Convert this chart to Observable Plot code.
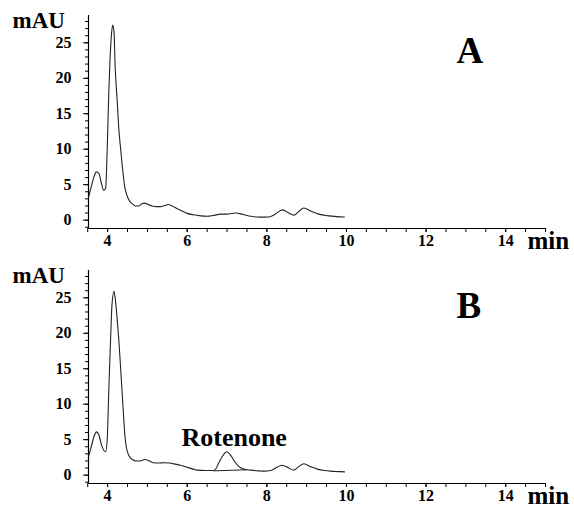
<!DOCTYPE html>
<html>
<head>
<meta charset="utf-8">
<script src="https://cdn.jsdelivr.net/npm/d3@7"></script>
<script src="https://cdn.jsdelivr.net/npm/@observablehq/plot@0.6"></script>
<style>
  html, body { margin: 0; padding: 0; background: #fff; }
  #chart svg { display: block; }
  #chart text { font-family: "Liberation Serif", "Times New Roman", "Tinos", "DejaVu Serif", serif !important; font-weight: 700 !important; }
</style>
</head>
<body>
<div id="chart"></div>
<script>
// ---- Data (retention time in min, absorbance in mAU) ----
const timeA = [3.52, 3.58, 3.65, 3.72, 3.78, 3.84, 3.90, 3.95, 3.99, 4.03, 4.06, 4.10, 4.13, 4.16, 4.19, 4.24, 4.28, 4.33, 4.38, 4.43, 4.48, 4.54, 4.62, 4.70, 4.78, 4.86, 4.93, 5.02, 5.12, 5.22, 5.33, 5.43, 5.52, 5.62, 5.75, 5.88, 6.00, 6.15, 6.34, 6.50, 6.65, 6.84, 7.00, 7.22, 7.40, 7.60, 7.80, 8.05, 8.20, 8.39, 8.55, 8.68, 8.80, 8.93, 9.10, 9.30, 9.55, 9.75, 9.95];
const mAUA  = [3.2, 4.5, 6.0, 6.8, 6.6, 5.3, 4.2, 4.5, 10.0, 18.0, 22.5, 26.4, 27.5, 26.6, 21.6, 16.9, 13.0, 9.9, 7.0, 4.7, 3.6, 2.8, 2.3, 2.0, 2.0, 2.3, 2.4, 2.2, 2.0, 1.9, 1.9, 2.05, 2.2, 2.0, 1.6, 1.25, 0.95, 0.75, 0.6, 0.55, 0.65, 0.85, 0.85, 1.0, 0.8, 0.55, 0.42, 0.45, 0.8, 1.45, 1.0, 0.7, 1.2, 1.7, 1.3, 0.85, 0.6, 0.5, 0.45];

const timeB = [3.52, 3.58, 3.65, 3.72, 3.78, 3.85, 3.95, 3.99, 4.03, 4.075, 4.11, 4.16, 4.20, 4.24, 4.28, 4.33, 4.37, 4.41, 4.45, 4.53, 4.62, 4.72, 4.82, 4.93, 5.05, 5.15, 5.30, 5.41, 5.55, 5.70, 5.83, 6.00, 6.15, 6.25, 6.45, 6.65, 6.72, 6.80, 6.90, 6.99, 7.08, 7.18, 7.30, 7.42, 7.60, 7.80, 7.93, 8.10, 8.25, 8.39, 8.55, 8.68, 8.80, 8.93, 9.10, 9.27, 9.45, 9.60, 9.80, 9.95];
const mAUB  = [2.6, 3.8, 5.3, 6.1, 5.7, 4.2, 3.3, 5.0, 12.0, 19.2, 24.0, 25.9, 24.5, 22.0, 19.2, 14.8, 11.2, 7.5, 4.7, 2.8, 2.2, 2.0, 2.0, 2.2, 2.0, 1.75, 1.7, 1.75, 1.7, 1.55, 1.4, 1.1, 0.85, 0.7, 0.65, 0.65, 0.9, 1.8, 2.8, 3.3, 2.9, 2.0, 1.2, 0.85, 0.7, 0.6, 0.56, 0.65, 1.1, 1.4, 1.0, 0.7, 1.2, 1.6, 1.2, 0.85, 0.65, 0.56, 0.5, 0.46];

// integration baseline under the rotenone peak (panel B)
const baseTime = [6.67, 7.47];
const baseMAU  = [0.6, 0.75];

// annotation
const peakName = "Rotenone";
const peakTime = 7.18;
const peakLabelMAU = 4.1;

// axes
const xDomain = [3.52, 15.0];
const yDomain = [-1.18, 28.85];
const xMajorTicks = [4, 6, 8, 10, 12, 14];
const xMinorTicks = [3.5, 4, 4.5, 5, 5.5, 6, 6.5, 7, 7.5, 8, 8.5, 9, 9.5, 10, 10.5, 11, 11.5, 12, 12.5, 13, 13.5, 14, 14.5, 15];
const yMajorTicks = [0, 5, 10, 15, 20, 25];
const yMinorTicks = [-1, 0, 1, 2, 3, 4, 5, 6, 7, 8, 9, 10, 11, 12, 13, 14, 15, 16, 17, 18, 19, 20, 21, 22, 23, 24, 25, 26, 27, 28];
const yUnit = "mAU";
const xUnit = "min";
const panelLetters = ["A", "B"];

const serif = "Liberation Serif, Times New Roman, serif";

function panel(time, values, letter, height, extra) {
  const rows = time.map((t, i) => ({t, v: values[i]}));
  return Plot.plot({
    width: 574,
    height,
    marginLeft: 88,
    marginRight: 29,
    marginTop: 15,
    marginBottom: height - 228,
    x: {domain: xDomain},
    y: {domain: yDomain},
    style: {fontFamily: serif, fontSize: "16px", color: "#000", background: "#fff", overflow: "visible"},
    marks: [
      Plot.ruleY([yDomain[0]], {stroke: "#000", strokeWidth: 1.2}),
      Plot.ruleX([xDomain[0]], {stroke: "#000", strokeWidth: 1.2}),
      Plot.axisX(xMinorTicks, {tickSize: 4, tickFormat: () => "", label: null, stroke: "#000"}),
      Plot.axisX(xMajorTicks, {tickSize: 4, tickPadding: 2, label: null, fontSize: 16, fontFamily: serif, fontWeight: "bold", fill: "#000"}),
      Plot.axisY(yMinorTicks, {tickSize: 3, tickFormat: () => "", label: null, stroke: "#000"}),
      Plot.axisY(yMajorTicks, {tickSize: 5, tickPadding: 12, label: null, fontSize: 16, fontFamily: serif, fontWeight: "bold", fill: "#000"}),
      Plot.line(rows, {x: "t", y: "v", stroke: "#222", strokeWidth: 1.1, curve: "monotone-x"}),
      ...extra,
      Plot.text([yUnit], {text: d => d, frameAnchor: "top-left", textAnchor: "start", lineAnchor: "bottom", dx: -76, dy: 12, fontSize: 23, fontFamily: serif, fontWeight: "bold", fill: "#000"}),
      Plot.text([xUnit], {text: d => d, frameAnchor: "bottom-right", textAnchor: "start", lineAnchor: "bottom", dx: -18, dy: 20, fontSize: 25, fontFamily: serif, fontWeight: "bold", fill: "#000"}),
      Plot.text([letter], {text: d => d, frameAnchor: "top-right", textAnchor: "start", lineAnchor: "bottom", dx: -89, dy: 47, fontSize: 37, fontFamily: serif, fontWeight: "bold", fill: "#000"})
    ]
  });
}

const baseRows = baseTime.map((t, i) => ({t, v: baseMAU[i]}));
const chart = document.getElementById("chart");
chart.appendChild(panel(timeA, mAUA, panelLetters[0], 255, []));
chart.appendChild(panel(timeB, mAUB, panelLetters[1], 256, [
  Plot.line(baseRows, {x: "t", y: "v", stroke: "#222", strokeWidth: 1}),
  Plot.text([peakName], {x: () => peakTime, y: () => peakLabelMAU, text: d => d, textAnchor: "middle", lineAnchor: "bottom", fontSize: 26, fontFamily: serif, fontWeight: "bold", fill: "#000"})
]));
</script>
</body>
</html>
